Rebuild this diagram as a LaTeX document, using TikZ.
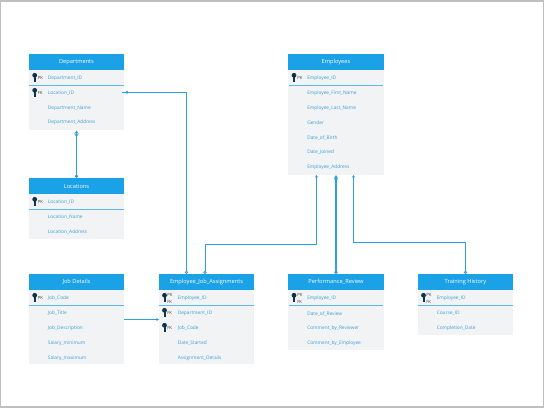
\documentclass[tikz,border=0pt]{standalone}
\usepackage{fontspec}
\setmainfont{Open Sans}
\usetikzlibrary{arrows.meta}
\definecolor{headblue}{HTML}{1BA1E6}
\definecolor{rowgray}{HTML}{F2F3F4}
\definecolor{rowtext}{HTML}{3A9FDC}
\definecolor{wireblue}{HTML}{2F9FDF}
\definecolor{linelight}{HTML}{5CB8EE}
\definecolor{keydark}{HTML}{10324A}
\definecolor{pagegray}{HTML}{BFBFBF}
\tikzset{
	headbox/.style={fill=headblue,text=white,minimum width=71.5pt,minimum height=12pt,inner sep=0pt,font=\fontsize{4.25pt}{5pt}\selectfont},
	bodybox/.style={fill=rowgray,minimum width=71.5pt,inner sep=0pt,anchor=north},
	rowtxt/.style={text=rowtext,anchor=west,inner sep=0pt,yshift=-0.4pt,font=\fontsize{3.6pt}{4.5pt}\selectfont},
	keytxt/.style={text=black!75,anchor=west,inner sep=0pt,font=\fontsize{3.2pt}{3.6pt}\selectfont},
	keyicon/.pic={\fill[keydark] (0,-2.2) circle (2.4); \fill[keydark] (-1,-2) rectangle (1,4.6);},
	rowline/.style={fill=linelight},
	wire/.style={color=wireblue,line width=0.6pt},
	fatwire/.style={color=wireblue,line width=1pt},
	wiredot/.style={circle,fill=wireblue,inner sep=0pt,minimum size=2.4pt},
}
\begin{document}
\begin{tikzpicture}[x=0.75pt,y=-0.75pt]
	\useasboundingbox (0,0) rectangle (544,408);
	\fill[pagegray] (0,0) rectangle (544,408);
	\fill[white] (1,1.5) rectangle (543,406.3);
	% Departments
	\node[bodybox,minimum height=45pt] (deptbody) at (76.5,70) {};
	\node[headbox] (dept) at (76.5,62) {Departments};
	\fill[rowline] (29,85) rectangle (124,86);
	\pic at (34.7,77.5) {keyicon};
	\pic at (34.7,92.5) {keyicon};
	\node[keytxt] (deptk1) at (37.5,78) {PK};
	\node[keytxt] (deptk2) at (37.5,92.8) {FK};
	\node[rowtxt] (dept1) at (47.7,78) {Department\_ID};
	\node[rowtxt] (dept2) at (47.7,92.8) {Location\_ID};
	\node[rowtxt] (dept3) at (47.7,107.5) {Department\_Name};
	\node[rowtxt] (dept4) at (47.7,122) {Department\_Address};
	% Locations
	\node[bodybox,minimum height=33.5pt] (locbody) at (76.5,194) {};
	\node[headbox] (loc) at (76.5,186) {Locations};
	\fill[rowline] (29,209) rectangle (124,210);
	\pic at (34.7,201.5) {keyicon};
	\node[keytxt] (lock1) at (37.5,202) {PK};
	\node[rowtxt] (loc1) at (47.7,202) {Location\_ID};
	\node[rowtxt] (loc2) at (47.7,217) {Location\_Name};
	\node[rowtxt] (loc3) at (47.7,231.5) {Location\_Address};
	% Job Details
	\node[bodybox,minimum height=55.5pt] (jobbody) at (76.5,290) {};
	\node[headbox] (job) at (76.5,282) {Job Details};
	\fill[rowline] (29,305) rectangle (124,306);
	\pic at (34.7,297.5) {keyicon};
	\node[keytxt] (jobk1) at (37.5,298) {PK};
	\node[rowtxt] (job1) at (47.7,298) {Job\_Code};
	\node[rowtxt] (job2) at (47.7,313) {Job\_Title};
	\node[rowtxt] (job3) at (47.7,328) {Job\_Description};
	\node[rowtxt] (job4) at (47.7,342.5) {Salary\_minimum};
	\node[rowtxt] (job5) at (47.7,357.5) {Salary\_maximum};
	% Employee_Job_Assignments
	\node[bodybox,minimum height=55.5pt] (ejabody) at (206.5,290) {};
	\node[headbox] (eja) at (206.5,282) {Employee\_Job\_Assignments};
	\fill[rowline] (159,305) rectangle (254,306);
	\pic at (164.5,297.5) {keyicon};
	\pic at (164.5,312.5) {keyicon};
	\pic at (164.5,327.5) {keyicon};
	\node[keytxt] (ejak1) at (167,295) {PK};
	\node[keytxt] (ejak2) at (167,301.5) {FK};
	\node[keytxt] (ejak3) at (167,313) {FK};
	\node[keytxt] (ejak4) at (167,328) {FK};
	\node[rowtxt] (eja1) at (177.5,298) {Employee\_ID};
	\node[rowtxt] (eja2) at (177.5,313) {Department\_ID};
	\node[rowtxt] (eja3) at (177.5,328) {Job\_Code};
	\node[rowtxt] (eja4) at (177.5,342.5) {Date\_Started};
	\node[rowtxt] (eja5) at (177.5,357.5) {Assignment\_Details};
	% Employees
	\node[bodybox,minimum height=78.5pt] (empbody) at (336,70) {};
	\node[headbox] (emp) at (336,62) {Employees};
	\fill[rowline] (289,85) rectangle (383,86);
	\pic at (294,77.5) {keyicon};
	\node[keytxt] (empk1) at (297,78) {PK};
	\node[rowtxt] (emp1) at (307,78) {Employee\_ID};
	\node[rowtxt] (emp2) at (307,93) {Employee\_First\_Name};
	\node[rowtxt] (emp3) at (307,107.5) {Employee\_Last\_Name};
	\node[rowtxt] (emp4) at (307,122) {Gender};
	\node[rowtxt] (emp5) at (307,137) {Date\_of\_Birth};
	\node[rowtxt] (emp6) at (307,151.5) {Date\_Joined};
	\node[rowtxt] (emp7) at (307,166.5) {Employee\_Address};
	% Performance_Review
	\node[bodybox,minimum height=44.5pt] (perfbody) at (336,290) {};
	\node[headbox] (perf) at (336,282) {Performance\_Review};
	\fill[rowline] (289,305) rectangle (383,306);
	\pic at (294,297.5) {keyicon};
	\node[keytxt] (perfk1) at (297,295) {PK};
	\node[keytxt] (perfk2) at (297,301.5) {FK};
	\node[rowtxt] (perf1) at (307,298) {Employee\_ID};
	\node[rowtxt] (perf2) at (307,313) {Date\_of\_Review};
	\node[rowtxt] (perf3) at (307,328) {Comment\_by\_Reviewer};
	\node[rowtxt] (perf4) at (307,342.5) {Comment\_by\_Employee};
	% Training History
	\node[bodybox,minimum height=33.5pt] (trainbody) at (465.5,290) {};
	\node[headbox] (train) at (465.5,282) {Training History};
	\fill[rowline] (418,305) rectangle (513,306);
	\pic at (423.5,297.5) {keyicon};
	\node[keytxt] (traink1) at (426,295) {PK};
	\node[keytxt] (traink2) at (426,301.5) {FK};
	\node[rowtxt] (train1) at (436.5,298) {Employee\_ID};
	\node[rowtxt] (train2) at (436.5,313) {Course\_ID};
	\node[rowtxt] (train3) at (436.5,328) {Completion\_Date};
	% connector ends
	\coordinate (d2out) at (121.5,92.3);
	\coordinate (e2in) at (186.5,274);
	\coordinate (e3in) at (205,274);
	\coordinate (m1out) at (316.5,175);
	\coordinate (m2out) at (353.5,175);
	\coordinate (t1in) at (465.5,274);
	\coordinate (j1out) at (124,319.5);
	\coordinate (e1in) at (159,319.5);
	\coordinate (m1bend) at (205,244);
	\coordinate (m2bend) at (465.5,242.3);
	\node[wiredot] (d2dot) at (127,92.3) {};
	% connectors
	\draw[fatwire,{Stealth[length=2.4pt,width=3.2pt]Stealth[length=2.4pt,width=3.2pt,reversed]}-{Circle[length=2.4pt]}] (deptbody.south) -- (loc.north);
	\draw[wire,{Circle[length=2.4pt,open]}-] (e2in) |- (d2out);
	\draw[wire,{Stealth[length=2pt,width=2.4pt]}-{Circle[length=2.4pt,open]}] (m1out) |- (m1bend) -- (e3in);
	\draw[fatwire,{Stealth[length=2.4pt,width=3.2pt]Stealth[length=2.4pt,width=3.2pt,reversed]}-{Circle[length=2.4pt,open]}] (empbody.south) -- (perf.north);
	\draw[wire,{Stealth[length=2pt,width=2.4pt]}-{Circle[length=2.4pt,open]}] (m2out) |- (m2bend) -- (t1in);
	\draw[wire,line width=0.8pt,{Stealth[length=2pt,width=2.4pt]}-] (e1in) -- (j1out);
\end{tikzpicture}
\end{document}
